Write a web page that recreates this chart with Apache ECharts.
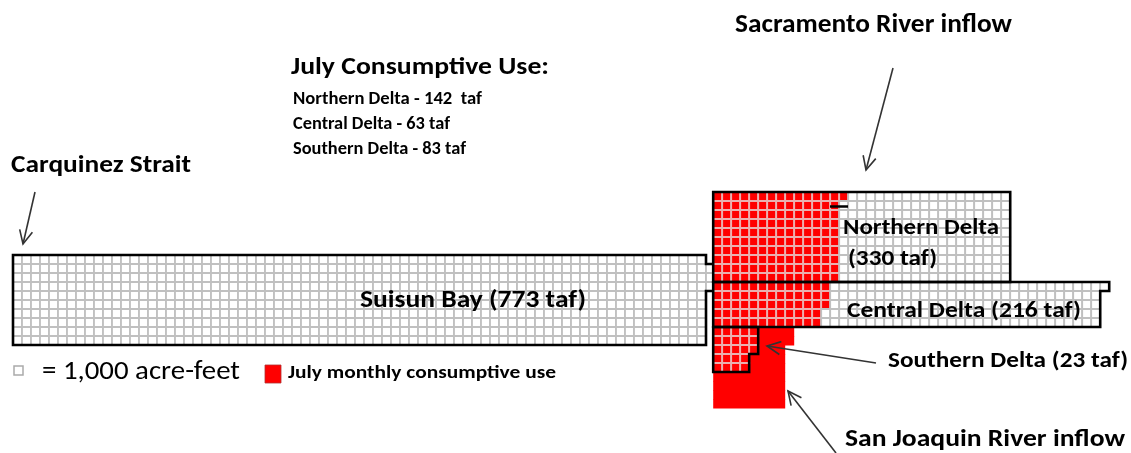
<!DOCTYPE html>
<html><head><meta charset="utf-8">
<script src="https://cdn.jsdelivr.net/npm/echarts@6/dist/echarts.min.js"></script>
<style>html,body{margin:0;padding:0;background:#fff}#c{width:1131px;height:453px}</style>
</head><body><div id="c"></div>
<script>
// ---- Data (1 cell = 1,000 acre-feet) ----
const regionNames = ['Suisun Bay', 'Northern Delta', 'Central Delta', 'Southern Delta'];
const regionTaf = [773, 330, 216, 23];
// cells per row of each region
const suisunRows   = [77, 78, 78, 78, 77, 77, 77, 77, 77, 77];
const northernRows = [33, 33, 33, 33, 33, 33, 33, 33, 33, 33];
const centralRows  = [44, 43, 43, 43, 43];
const southernRows = [5, 5, 5, 4, 4];
// July consumptive use: red cells per row
const northernUseRows = [15, 14, 14, 14, 14, 14, 14, 14, 14, 14];
const centralUseRows  = [13, 13, 13, 12, 12];
const southernUseRows = [9, 9, 8, 8, 8, 8, 8, 8, 8];
const useTaf = [142, 63, 83];

// ---- Layout (cell units) ----
const origin = {
  suisun: [1, 28], northern: [78.8, 21], central: [78.8, 31], southern: [78.8, 36]
};

function cells(rows, useRows, o) {
  const out = [];
  rows.forEach((len, r) => {
    for (let c = 0; c < len; c++) {
      out.push([o[0] + c, o[1] + r, useRows && c < (useRows[r] || 0) ? 1 : 0]);
    }
  });
  return out;
}
function outline(rows, o) {
  const pts = [[o[0], o[1]]];
  rows.forEach((len, r) => { pts.push([o[0] + len, o[1] + r]); pts.push([o[0] + len, o[1] + r + 1]); });
  pts.push([o[0], o[1] + rows.length]);
  return pts;
}

const suisunCells = cells(suisunRows, null, origin.suisun);
const deltaCells = cells(northernRows, northernUseRows, origin.northern)
  .concat(cells(centralRows, centralUseRows, origin.central));
const southCells = cells(southernRows, southernRows, origin.southern);
const useBlock = southernUseRows.map((w, r) => [origin.southern[0], origin.southern[1] + r, w]);
const suisunOutline = [outline(suisunRows, origin.suisun)];
const deltaOutlines = [outline(northernRows, origin.northern), outline(centralRows, origin.central), outline(southernRows, origin.southern)];

function cellRender(params, api) {
  const p0 = api.coord([api.value(0), api.value(1)]);
  const p1 = api.coord([api.value(0) + 1, api.value(1) + 1]);
  const red = api.value(2) === 1;
  return { type: 'rect', shape: { x: p0[0], y: p0[1], width: p1[0] - p0[0], height: p1[1] - p0[1] },
    style: { fill: red ? '#ff0000' : '#ffffff', stroke: red ? '#eab0b0' : '#c0c0c0', lineWidth: 1.8 } };
}
function outlineSeries(list) {
  return { type: 'custom', data: list.map((_, i) => [i]), silent: true,
    renderItem(params, api) {
      const pts = list[params.dataIndex].map(p => api.coord(p));
      return { type: 'polygon', shape: { points: pts }, style: { fill: 'none', stroke: '#000', lineWidth: 2.6 } };
    } };
}

function arrow(x1, y1, x2, y2) {
  const a = Math.atan2(y2 - y1, x2 - x1), L = 15, w = 0.45;
  return [
    { type: 'line', z: 100, shape: { x1, y1, x2, y2 }, style: { stroke: '#333', lineWidth: 1.6 } },
    { type: 'polyline', z: 100, shape: { points: [[x2 - L * Math.cos(a - w), y2 - L * Math.sin(a - w)], [x2, y2], [x2 - L * Math.cos(a + w), y2 - L * Math.sin(a + w)]] },
      style: { stroke: '#333', lineWidth: 1.6, fill: 'none' } }
  ];
}
const F = "'Carlito','Lato','DejaVu Sans',sans-serif";
const measureCtx = document.createElement('canvas').getContext('2d');
// text fitted horizontally to the width it occupies in the reference
function txt(text, x, y, size, weight, targetW) {
  weight = weight || 'bold';
  measureCtx.font = weight + ' ' + size + 'px ' + F;
  const w = measureCtx.measureText(text).width;
  const sx = targetW ? targetW / w : 1;
  return { type: 'text', z: 100, x, y, scaleX: sx, originX: 0, originY: 0,
    style: { text, fontFamily: F, fontSize: size, fontWeight: weight, fill: '#000', verticalAlign: 'middle', align: 'left' } };
}

const chart = echarts.init(document.getElementById('c'));
chart.setOption({
  animation: false,
  grid: { left: 4, top: 3, width: 1125, height: 450 },
  xAxis: { type: 'value', min: 0, max: 125, show: false },
  yAxis: { type: 'value', min: 0, max: 50, inverse: true, show: false },
  series: [
    { type: 'custom', data: suisunCells, renderItem: cellRender, silent: true },
    outlineSeries(suisunOutline),
    { type: 'custom', data: deltaCells, renderItem: cellRender, silent: true },
    { type: 'custom', data: useBlock, silent: true,
      renderItem(params, api) {
        const p0 = api.coord([api.value(0), api.value(1)]);
        const p1 = api.coord([api.value(0) + api.value(2), api.value(1) + 1]);
        return { type: 'rect', shape: { x: p0[0], y: p0[1], width: p1[0] - p0[0], height: p1[1] - p0[1] + 0.5 }, style: { fill: '#ff0000' } };
      } },
    { type: 'custom', data: southCells, renderItem: cellRender, silent: true },
    outlineSeries(deltaOutlines)
  ],
  graphic: [
    txt('Sacramento River inflow', 735, 25, 26, 'bold', 277),
    txt('July Consumptive Use:', 291, 68, 25, 'bold', 258),
    txt('Northern Delta - ' + useTaf[0] + '  taf', 293, 100, 17, 'bold', 189),
    txt('Central Delta - ' + useTaf[1] + ' taf', 293, 125, 17, 'bold', 157),
    txt('Southern Delta - ' + useTaf[2] + ' taf', 293, 150, 17, 'bold', 173),
    txt('Carquinez Strait', 11, 166, 25, 'bold', 180),
    txt(regionNames[0] + ' (' + regionTaf[0] + ' taf)', 360, 301, 25, 'bold', 226),
    txt(regionNames[1], 843, 228, 23, 'bold', 156),
    txt('(' + regionTaf[1] + ' taf)', 848, 259, 23, 'bold', 89),
    txt(regionNames[2] + ' (' + regionTaf[2] + ' taf)', 847, 311, 23, 'bold', 234),
    txt(regionNames[3] + ' (' + regionTaf[3] + ' taf)', 888, 361, 23, 'bold', 240),
    txt('San Joaquin River inflow', 845, 440, 25, 'bold', 280),
    { type: 'rect', z: 100, shape: { x: 14, y: 366, width: 9, height: 9 }, style: { fill: '#fff', stroke: '#aaa', lineWidth: 1.5 } },
    txt('= 1,000 acre-feet', 42, 372, 26, 'normal', 198),
    { type: 'rect', z: 100, shape: { x: 265, y: 365, width: 16, height: 18 }, style: { fill: '#ff0000', stroke: '#b03030', lineWidth: 0.8 } },
    txt('July monthly consumptive use', 288, 374, 17, 'bold', 268),
    { type: 'line', z: 100, shape: { x1: 830, y1: 206.5, x2: 848, y2: 206.5 }, style: { stroke: '#000', lineWidth: 2.5 } }
  ].concat(arrow(35, 192, 23, 244), arrow(893, 68, 866, 170), arrow(876, 363, 767, 346), arrow(836, 453, 788, 391))
});
</script></body></html>
